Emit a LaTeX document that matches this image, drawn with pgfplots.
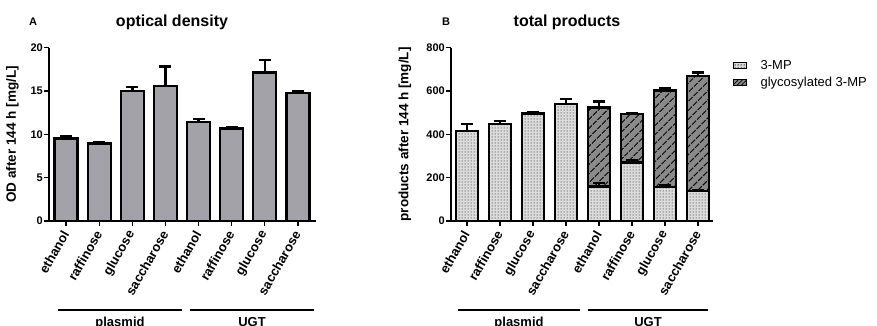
\documentclass[border=0pt]{standalone}
\usepackage{pgfplots}
\pgfplotsset{compat=1.18}
\usepackage{fontspec}
\setmainfont{Liberation Sans}
\usetikzlibrary{patterns,patterns.meta}
\definecolor{barA}{RGB}{162,162,168}
\definecolor{mpfill}{RGB}{220,220,220}
\definecolor{glyfill}{RGB}{138,138,138}
\pgfplotsset{
  prism/.style={
    scale only axis,
    height=173.3pt,
    ymin=0,
    axis x line*=bottom, axis y line*=left,
    axis line style={line width=2pt,-},
    xtick={0,...,7},
    xticklabels={ethanol,raffinose,glucose,saccharose,ethanol,raffinose,glucose,saccharose},
    x tick label style={rotate=60, anchor=east, font=\bfseries\fontsize{13}{13}\selectfont, inner sep=1pt},
    xticklabel shift=5pt,
    y tick label style={font=\bfseries\fontsize{11}{11}\selectfont, inner sep=1pt},
    tick style={line width=1.5pt, black},
    major tick length=5pt,
    tick align=outside,
    ylabel style={font=\bfseries\fontsize{13.5}{13.5}\selectfont, anchor=center},
    /pgf/number format/assume math mode=true,
  },
  errs/.style={error bars/y dir=plus, error bars/y explicit,
    error bars/error bar style={line width=2.4pt, black},
    error bars/error mark options={rotate=90, mark size=6pt, line width=2.4pt, black}},
}
\begin{document}
\begin{tikzpicture}[x=1pt,y=1pt]
\path[use as bounding box] (0,0) rectangle (877,326);
% ---------- panel A ----------
\begin{axis}[prism,
  at={(49pt,105pt)}, anchor=south west,
  width=267pt,
  xmin=-0.52, xmax=7.55,
  ymax=20, ytick={0,5,10,15,20},
  ylabel={OD after 144 h [mg/L]},
  ylabel style={at={(axis description cs:-0.137,0.5)}},
]
\addplot[ybar, bar width=23pt, bar shift=0pt, fill=barA, draw=black, line width=2.5pt, errs]
  table[x=x, y=y, y error=e] {
x y e
0 9.5 0.25
1 8.95 0.1
2 15.0 0.45
3 15.6 2.25
4 11.45 0.35
5 10.7 0.08
6 17.15 1.45
7 14.8 0.2
};
\end{axis}
% ---------- panel B ----------
\begin{axis}[prism,
  at={(451pt,105pt)}, anchor=south west,
  width=262pt,
  xmin=-0.48, xmax=7.45,
  ymax=800, ytick={0,200,400,600,800},
  ylabel={products after 144 h [mg/L]},
  ylabel style={at={(axis description cs:-0.176,0.5)}},
  legend style={at={(1.075,0.94)}, anchor=north west, draw=none, fill=none,
    font=\fontsize{13}{13}\selectfont, row sep=2pt, inner sep=0pt},
  legend cell align=left,
]
\addplot[ybar, bar width=22pt, bar shift=0pt, fill=glyfill, draw=black, line width=2.5pt,
  postaction={pattern={Lines[angle=45, distance=6.5pt, line width=1.3pt]}}, errs, forget plot]
  table[x=x, y=y, y error=e] {
x y e
4 525 27
5 494 2
6 602 9
7 669 16
};
\addplot[ybar, bar width=22pt, bar shift=0pt, fill=mpfill, draw=black, line width=2.5pt,
  postaction={pattern=dots}, errs,
  legend image code/.code={\draw[fill=mpfill, postaction={pattern=dots}, draw=black, line width=1pt] (0pt,-3pt) rectangle (13pt,3pt); \path (24pt,0pt);}]
  table[x=x, y=y, y error=e] {
x y e
0 415 33
1 448 14
2 497 5
3 541 21
4 160 16
5 270 9
6 158 5
7 138 5
};
\addlegendentry{3-MP}
\addlegendimage{legend image code/.code={\draw[fill=glyfill, postaction={pattern={Lines[angle=45, distance=3pt, line width=0.8pt]}}, draw=black, line width=1pt] (0pt,-3pt) rectangle (13pt,3pt); \path (24pt,0pt);}}
\addlegendentry{glycosylated 3-MP}
\end{axis}
% ---------- titles and group labels ----------
\node[font=\bfseries\fontsize{11}{11}\selectfont] at (33,304) {A};
\node[font=\bfseries\fontsize{16}{16}\selectfont] at (172,303.5) {optical density};
\node[font=\bfseries\fontsize{11}{11}\selectfont] at (446,304) {B};
\node[font=\bfseries\fontsize{16}{16}\selectfont] at (567,303.5) {total products};
\draw[line width=2pt] (58,16) -- (182,16);
\draw[line width=2pt] (190,16) -- (314,16);
\draw[line width=2pt] (458,16) -- (580,16);
\draw[line width=2pt] (588,16) -- (708,16);
\node[font=\bfseries\fontsize{13}{13}\selectfont, anchor=base] at (120,-1) {plasmid};
\node[font=\bfseries\fontsize{13}{13}\selectfont, anchor=base] at (252,-1) {UGT};
\node[font=\bfseries\fontsize{13}{13}\selectfont, anchor=base] at (519,-1) {plasmid};
\node[font=\bfseries\fontsize{13}{13}\selectfont, anchor=base] at (648,-1) {UGT};
\end{tikzpicture}
\end{document}
